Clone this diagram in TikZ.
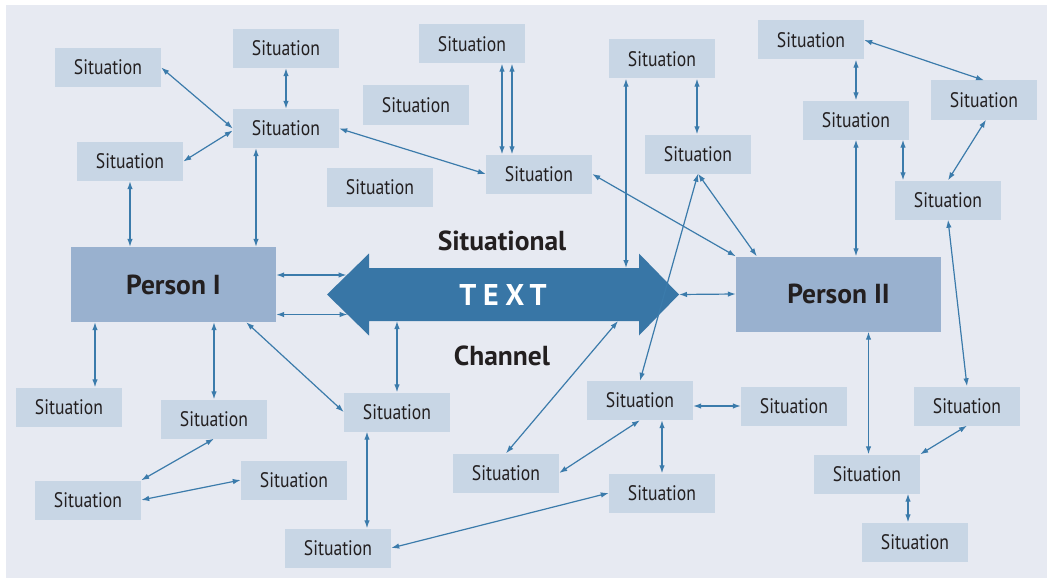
\documentclass[tikz,border=0pt]{standalone}
\usepackage{fontspec}
\setmainfont{PT Sans}
\newfontfamily\sitf[FakeStretch=0.84]{PT Sans}
\newfontfamily\boldf{PT Sans}
\newfontfamily\textf[LetterSpace=22]{PT Sans}
\usetikzlibrary{arrows.meta,calc}
\definecolor{panelc}{HTML}{E7EAF2}
\definecolor{boxc}{HTML}{C8D6E5}
\definecolor{perc}{HTML}{99B1CF}
\definecolor{arrowc}{HTML}{3876A6}
\definecolor{linec}{HTML}{3B7BAB}
\definecolor{txtc}{HTML}{231F20}
\begin{document}
\begin{tikzpicture}[x=1pt,y=-1pt,
  sit/.style={fill=boxc, minimum width=106pt, minimum height=39pt, inner sep=0pt, text=txtc, font=\sitf\fontsize{21}{21}\selectfont},
  per/.style={fill=perc, minimum width=205pt, minimum height=75pt, inner sep=0pt, text=txtc, font=\boldf\bfseries\fontsize{27.5}{27.5}\selectfont},
  lab/.style={text=txtc, inner sep=0pt, font=\boldf\bfseries\fontsize{27.5}{27.5}\selectfont},
  con/.style={draw=linec, line width=1.2pt, {Latex[length=8pt,width=5.5pt]}-{Latex[length=8pt,width=5.5pt]}}]
\useasboundingbox (0,0) rectangle (1050,578);
\fill[white] (0,0) rectangle (1050,578);
\fill[panelc] (6,5) rectangle (1047,578);

% big arrow
\coordinate (tipL) at (327,294.5);
\coordinate (tipR) at (679,294.5);
\coordinate (shaftT) at (0,268);
\coordinate (shaftB) at (0,321);
\fill[arrowc] (tipL) -- (369,253.5) -- (369,268) -- (639,268) -- (639,253.5) -- (tipR)
  -- (639,335.5) -- (639,321) -- (369,321) -- (369,335.5) -- cycle;
\node[text=white, inner sep=0pt, font=\textf\bfseries\fontsize{30}{30}\selectfont] (txt) at (503,294.5) {TEXT};
\node[lab] (sitl) at (502,241) {Situational};
\node[lab] (chan) at (502,356) {Channel};
\coordinate (aL1) at (346.5,275);
\coordinate (aL2) at (347.5,314.5);
\coordinate (aB2) at (618,321);

% persons
\node[per] (P1) at (173.5,284.5) {Person I};
\node[per] (P2) at (838.5,294) {Person II};

% situations
\node[sit] (S1) at (108,67.5) {Situation};
\node[sit] (S2) at (286,48.5) {Situation};
\node[sit] (S3) at (286,128.5) {Situation};
\node[sit] (S4) at (130,161.5) {Situation};
\node[sit] (S5) at (472,44) {Situation};
\node[sit] (S6) at (416,105) {Situation};
\node[sit] (S7) at (380,187) {Situation};
\node[sit] (S8) at (539,174) {Situation};
\node[sit] (S9) at (662,59) {Situation};
\node[sit] (S10) at (698,154) {Situation};
\node[sit] (S11) at (811,40) {Situation};
\node[sit] (S12) at (856,120) {Situation};
\node[sit] (S13) at (984,100) {Situation};
\node[sit] (S14) at (948,200) {Situation};
\node[sit] (S15) at (640,400.5) {Situation};
\node[sit] (S16) at (794,406) {Situation};
\node[sit] (S17) at (506,473) {Situation};
\node[sit] (S18) at (662,493) {Situation};
\node[sit] (S19) at (867,474) {Situation};
\node[sit] (S20) at (967,406) {Situation};
\node[sit] (S21) at (915,542) {Situation};
\node[sit] (S22) at (338,548) {Situation};
\node[sit] (S23) at (69,407) {Situation};
\node[sit] (S24) at (214,419) {Situation};
\node[sit] (S25) at (88,500) {Situation};
\node[sit] (S26) at (294,480) {Situation};
\node[sit] (S27) at (397,412) {Situation};

% helper coordinates
\coordinate (s3b) at ($(S3.south)+(-30,0)$);
\coordinate (s5a) at ($(S5.south)+(30,0)$);
\coordinate (s5b) at ($(S5.south)+(40,0)$);
\coordinate (s9a) at ($(S9.south)+(-36,0)$);
\coordinate (s9b) at ($(S9.south)+(35,0)$);
\coordinate (p2t) at ($(P2.north west)+(21,0)$);
\coordinate (s12r) at ($(S12.south)+(47,0)$);
\coordinate (s13b) at ($(S13.south)+(2,0)$);
\coordinate (p1a) at ($(S23.north)+(26,0)$);
\coordinate (p1c) at ($(P1.south east)+(-30,0)$);
\coordinate (s27b) at ($(S27.south)+(-30,0)$);
\coordinate (s15b) at ($(S15.south)+(22,0)$);
\coordinate (p2b) at ($(P2.south)+(30,0)$);
\coordinate (s19b) at ($(S19.south)+(41,0)$);

% connectors
\draw[con] (S1.east) -- (S3.west);
\draw[con] (S2) -- (S3);
\draw[con] (S4.east) -- ($(S3.west)+(0,2)$);
\draw[con] (S4) -- (S4 |- P1.north);
\draw[con] (s3b) -- (s3b |- P1.north);
\draw[con] (S3.east) -- (S8.west);
\draw[con] (s5a) -- (s5a |- S8.north);
\draw[con] (s5b) -- (s5b |- S8.north);
\draw[con] (s9a) -- (s9a |- shaftT);
\draw[con] (s9b) -- (s9b |- S10.north);
\draw[con] (S8.east) -- (P2.north west);
\draw[con] (S10.south) -- (p2t);
\draw[con] (S10.south) -- (S15.north);
\draw[con] (S12) -- (S12 |- S11.south);
\draw[con] (S11.east) -- (S13.north);
\draw[con] (S12) -- (S12 |- P2.north);
\draw[con] (s12r) -- (s12r |- S14.north);
\draw[con] (s13b) -- (S14.north);
\draw[con] (S14.south) -- (S20.north);
\draw[con] (aL1 -| P1.east) -- (aL1);
\draw[con] (aL2 -| P1.east) -- (aL2);
\draw[con] (P2.west) -- (tipR);
\draw[con] (p1a |- P1.south) -- (p1a);
\draw[con] (S24) -- (S24 |- P1.south);
\draw[con] (p1c) -- (S27.west);
\draw[con] (S27) -- (S27 |- shaftB);
\draw[con] (S24.south) -- (S25.north east);
\draw[con] (S25.east) -- (S26.west);
\draw[con] (s27b) -- (s27b |- S22.north);
\draw[con] (S22.east) -- (S18.west);
\draw[con] (S17.north) -- (aB2);
\draw[con] (S16.west -| S15.east) -- (S16.west);
\draw[con] (S15.south) -- (S17.east);
\draw[con] (s15b) -- (s15b |- S18.north);
\draw[con] (p2b) -- (p2b |- S19.north);
\draw[con] (S20.south) -- (S19.north east);
\draw[con] (s19b) -- (s19b |- S21.north);
\end{tikzpicture}
\end{document}
